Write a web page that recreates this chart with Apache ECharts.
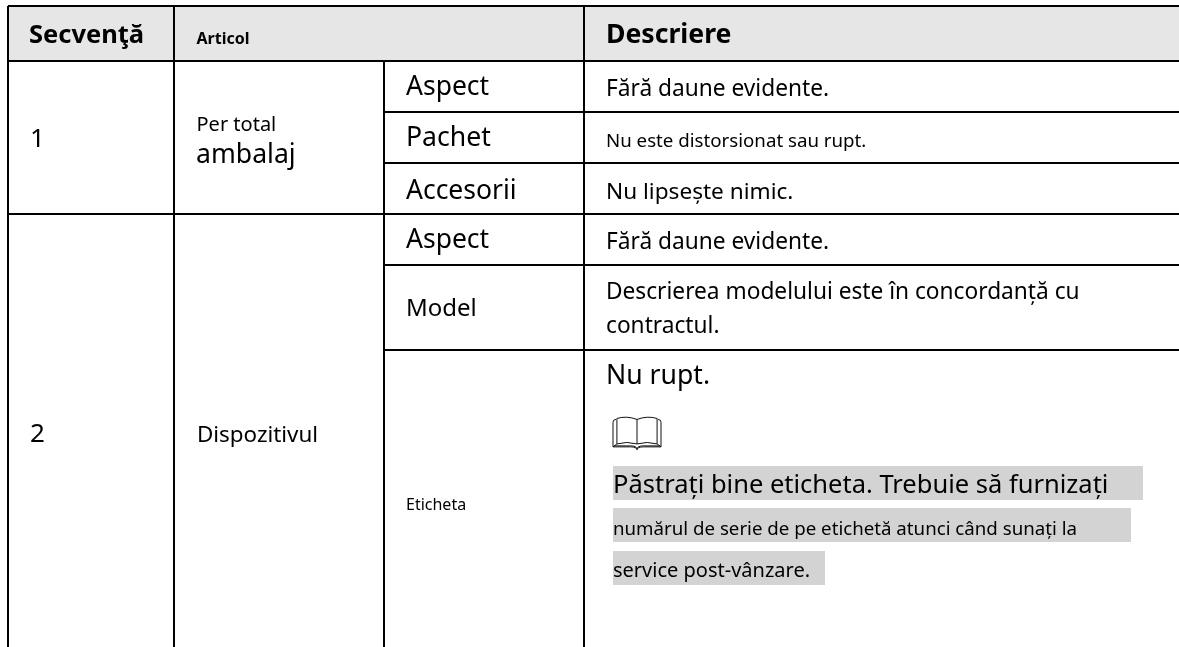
<!DOCTYPE html>
<html><head><meta charset="utf-8">
<style>html,body{margin:0;padding:0;background:#fff;overflow:hidden}#c{width:1179px;height:647px}</style>
<script src="https://cdn.jsdelivr.net/npm/echarts@6/dist/echarts.min.js"></script>
</head><body><div id="c"></div>
<script>
const headers = ['Secvenţă', 'Articol', 'Descriere'];
const sequences = ['1', '2'];
const groups = ['Per total', 'ambalaj', 'Dispozitivul'];
const items = ['Aspect', 'Pachet', 'Accesorii', 'Aspect', 'Model', 'Eticheta'];
const descriptions = ['Fără daune evidente.', 'Nu este distorsionat sau rupt.', 'Nu lipsește nimic.', 'Fără daune evidente.',
  'Descrierea modelului este în concordanță cu', 'contractul.', 'Nu rupt.'];
const notes = ['Păstrați bine eticheta. Trebuie să furnizați', 'numărul de serie de pe etichetă atunci când sunați la', 'service post-vânzare.'];
const rules = [
  [8,6,1179,6],[8,61,1179,61],[384,112,1179,112],[384,163,1179,163],[8,214,1179,214],[384,265,1179,265],[384,350,1179,350],
  [8,6,8,647],[174,6,174,647],[584,6,584,647],[384,61,384,647]
];
const bands = [[8,6,1179,61,'#e6e6e6'],[613,466,1143,500,'#d3d3d3'],[613,508,1131,542,'#d3d3d3'],[613,551,825,585,'#d3d3d3']];
const icons = [[613,416.5,661,450.5]];
const F = 'Noto Sans';
const texts = [
  [headers[0],29,43,25.5,'bold'],[headers[1],196.5,44,16,'bold'],[headers[2],606,43.5,26.6,'bold'],
  [sequences[0],30,147,26,'normal'],[groups[0],196.5,131,20,'normal'],[groups[1],196,163,26.6,'normal'],
  [items[0],406,95.5,26.5,'normal'],[items[1],406,146,26.6,'normal'],[items[2],406,199,26.5,'normal'],
  [descriptions[0],606,96,22.7,'normal'],[descriptions[1],606,147,18.7,'normal'],[descriptions[2],606,199,22.6,'normal'],
  [items[3],406,248.5,26.5,'normal'],[descriptions[3],606,249,22.7,'normal'],
  [items[4],406,316,24,'normal'],[descriptions[4],606,299.5,22.7,'normal'],[descriptions[5],606,333.5,22.7,'normal'],
  [sequences[1],30,442,26,'normal'],[groups[2],197,442,22.4,'normal'],[items[5],406,510,16,'normal'],
  [descriptions[6],606,384.5,26.6,'normal'],[notes[0],613,493,25.5,'normal'],[notes[1],613,535,18.7,'normal'],[notes[2],613,577,20,'normal']
];
const chart = echarts.init(document.getElementById('c'), null, {renderer:'canvas'});
chart.setOption({
  animation:false,backgroundColor:'#fff',
  grid:{left:0,right:0,top:0,bottom:0},
  xAxis:{type:'value',min:0,max:1179,show:false},
  yAxis:{type:'value',min:0,max:647,inverse:true,show:false},
  series:[
    {type:'custom',silent:true,z:1,encode:{x:[0,2],y:[1,3]},data:bands,
     renderItem:(p,api)=>{const a=api.coord([api.value(0),api.value(1)]),b=api.coord([api.value(2),api.value(3)]);
       return {type:'rect',shape:{x:a[0],y:a[1],width:b[0]-a[0],height:b[1]-a[1]},style:{fill:api.value(4)}};}},
    {type:'custom',silent:true,z:2,encode:{x:[0,2],y:[1,3]},data:rules,
     renderItem:(p,api)=>{const a=api.coord([api.value(0),api.value(1)]),b=api.coord([api.value(2),api.value(3)]);
       return {type:'line',shape:{x1:a[0],y1:a[1],x2:b[0],y2:b[1]},style:{stroke:'#000',lineWidth:2}};}},
    {type:'custom',silent:true,z:3,encode:{x:1,y:2},data:texts.map(t=>[t[1],t[2]]),
     renderItem:(p,api)=>{const t=texts[p.dataIndex];const c=api.coord([api.value(0),api.value(1)]);
       return {type:'text',style:{x:c[0],y:c[1]+t[3]*0.22,text:t[0],fill:'#000',verticalAlign:'bottom',align:'left',font:t[4]+' '+t[3]+'px "'+F+'"'}};}},
    {type:'custom',silent:true,z:3,encode:{x:[0,2],y:[1,3]},data:icons,
     renderItem:(p,api)=>{const a=api.coord([api.value(0),api.value(1)]),b=api.coord([api.value(2),api.value(3)]);
       return {type:'path',shape:{pathData:'M0,6 Q0,3 3,3 M0,6 L0,31 L18,31 Q24,31 24.5,34 Q25,31 31,31 L49,31 L49,6 Q49,3 46,3 M0,31 L4,28 L4,2 Q14,-1 24.5,3 Q35,-1 45,2 L45,28 L49,31 M4,28 Q14,25 24.5,28 Q35,25 45,28 M24.5,3 L24.5,28 M1,30 L18,30 Q24,30 24.5,33 Q25,30 31,30 L48,30',
         x:a[0],y:a[1],width:b[0]-a[0],height:b[1]-a[1]},style:{fill:'none',stroke:'#111',lineWidth:1}};}}
  ]
});
</script></body></html>
